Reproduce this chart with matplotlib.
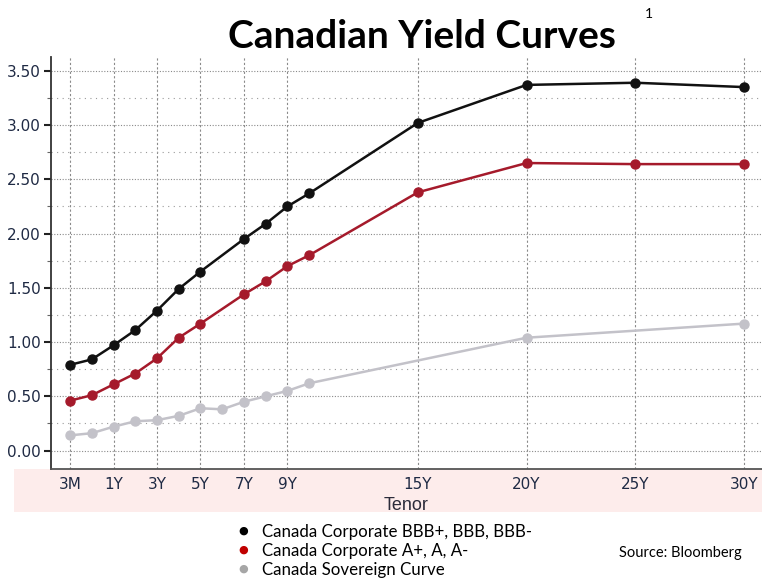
import matplotlib
matplotlib.use("Agg")
import matplotlib.pyplot as plt
from matplotlib.patches import Rectangle
from matplotlib.ticker import FixedLocator

# Tenor positions on the chart axis (3M, 6M, 1Y .. 10Y, 15Y, 20Y, 25Y, 30Y)
tenor_names = ["3M", "6M", "1Y", "2Y", "3Y", "4Y", "5Y", "6Y", "7Y", "8Y", "9Y", "10Y", "15Y", "20Y", "25Y", "30Y"]
tenor_pos = [-1, 0, 1, 2, 3, 4, 5, 6, 7, 8, 9, 10, 15, 20, 25, 30]

bbb_tenors = ["3M", "6M", "1Y", "2Y", "3Y", "4Y", "5Y", "7Y", "8Y", "9Y", "10Y", "15Y", "20Y", "25Y", "30Y"]
bbb_values = [0.79, 0.84, 0.97, 1.11, 1.29, 1.49, 1.65, 1.95, 2.09, 2.25, 2.37, 3.02, 3.37, 3.39, 3.35]

a_tenors = ["3M", "6M", "1Y", "2Y", "3Y", "4Y", "5Y", "7Y", "8Y", "9Y", "10Y", "15Y", "20Y", "25Y", "30Y"]
a_values = [0.46, 0.51, 0.61, 0.71, 0.85, 1.04, 1.17, 1.44, 1.56, 1.70, 1.80, 2.38, 2.65, 2.64, 2.64]

sov_tenors = ["3M", "6M", "1Y", "2Y", "3Y", "4Y", "5Y", "6Y", "7Y", "8Y", "9Y", "10Y", "20Y", "30Y"]
sov_values = [0.14, 0.16, 0.22, 0.27, 0.28, 0.32, 0.39, 0.38, 0.45, 0.50, 0.55, 0.62, 1.04, 1.17]

xtick_labels = ["3M", "1Y", "3Y", "5Y", "7Y", "9Y", "15Y", "20Y", "25Y", "30Y"]
ytick_values = [0.0, 0.5, 1.0, 1.5, 2.0, 2.5, 3.0, 3.5]
yminor_values = [0.25, 0.75, 1.25, 1.75, 2.25, 2.75, 3.25]

series_labels = ["Canada Corporate BBB+, BBB, BBB-", "Canada Corporate A+, A, A-", "Canada Sovereign Curve"]
series_colors = ["#111111", "#a51a2b", "#c3c2c9"]
legend_bullet_colors = ["#000000", "#c00000", "#a6a6a6"]

pos = dict(zip(tenor_names, tenor_pos))

W, H = 762, 587
fig = plt.figure(figsize=(W / 100, H / 100), dpi=100)

# pink band under the axis
band = Rectangle((14 / W, 1 - 512 / H), (W - 14) / W, (512 - 469) / H,
                 transform=fig.transFigure, facecolor="#fdeceb", edgecolor="none", zorder=-5)
fig.patches.append(band)

ax = fig.add_axes([50.7 / W, 1 - 469 / H, (W - 50.7) / W, (469 - 56.7) / H])
ax.set_facecolor("white")

tick_font = ["Liberation Sans Narrow", "DejaVu Sans"]
tick_color = "#1f2a44"
for spine in ["top", "right"]:
    ax.spines[spine].set_visible(False)
ax.spines["left"].set_color("#333333")
ax.spines["bottom"].set_color("#555555")
ax.spines["left"].set_linewidth(1.3)
ax.spines["bottom"].set_linewidth(1.3)

ax.set_xlim(-1.89, 30.83)
ax.set_ylim(-0.17, 3.63)

ax.set_xticks([pos[t] for t in xtick_labels])
ax.set_xticklabels(xtick_labels, family=tick_font)
ax.set_yticks(ytick_values)
ax.set_yticklabels([f"{v:.2f}" for v in ytick_values], family=tick_font)
ax.yaxis.set_minor_locator(FixedLocator(yminor_values))

ax.tick_params(axis="y", which="major", length=5, width=1.5, color="#222222", labelsize=11,
               labelcolor=tick_color, pad=2)
ax.tick_params(axis="y", which="minor", length=3, width=0.8, color="#666666")
ax.tick_params(axis="x", which="major", length=0, labelsize=11,
               labelcolor=tick_color, pad=6)

ax.grid(True, axis="y", which="major", color="#8a8a8a", linestyle=(0, (1, 1.5)), linewidth=0.8)
ax.grid(True, axis="y", which="minor", color="#9a9a9a", linestyle=(0, (1, 4)), linewidth=0.8)
ax.grid(True, axis="x", which="major", color="#8a8a8a", linestyle=(0, (2, 2)), linewidth=0.8)
ax.set_axisbelow(True)

series = [(bbb_tenors, bbb_values), (a_tenors, a_values), (sov_tenors, sov_values)]
for (tn, vals), c, lab in zip(series, series_colors, series_labels):
    ax.plot([pos[t] for t in tn], vals, color=c, linewidth=1.8, marker="o", markersize=6.5,
            label=lab, zorder=3, clip_on=False)

ax.set_xlabel("Tenor", fontsize=13, color="#2b2b3a", labelpad=3, family=["Liberation Sans", "DejaVu Sans"])

# title
fig.text(422 / W, 1 - 37 / H, "Canadian Yield Curves", ha="center", va="center",
         fontsize=28, fontweight="bold", family=["Lato", "DejaVu Sans"], color="black")
fig.text(649 / W, 1 - 14 / H, "1", ha="center", va="center", fontsize=10,
         family=["Lato", "DejaVu Sans"], color="black")

# legend below
ys = [531, 550, 569]
for y, c, lab in zip(ys, legend_bullet_colors, series_labels):
    fig.text(243 / W, 1 - y / H, "●", ha="center", va="center", fontsize=8, color=c,
             family=["DejaVu Sans"])
    fig.text(262 / W, 1 - (y + 1) / H, lab, ha="left", va="center", fontsize=12.2,
             family=["Lato", "DejaVu Sans"], color="black")

fig.text(742 / W, 1 - 553 / H, "Source: Bloomberg", ha="right", va="center", fontsize=10.5,
         family=["Lato", "DejaVu Sans"], color="black")

fig.savefig("out.png", dpi=100)
